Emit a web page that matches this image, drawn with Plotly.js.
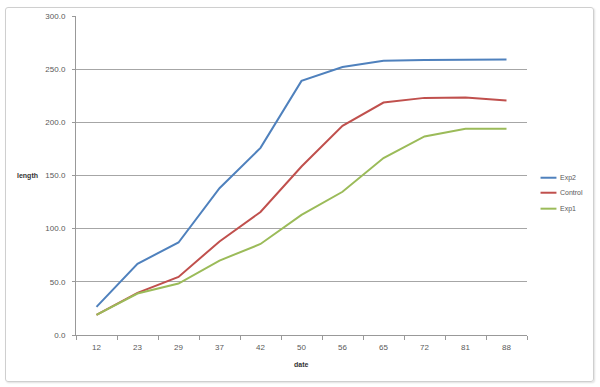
<!DOCTYPE html>
<html><head><meta charset="utf-8">
<script src="https://cdn.plot.ly/plotly-3.0.1.min.js"></script>
<style>
body{margin:0;background:#fff;}
#frame{position:absolute;left:5px;top:7px;width:587px;height:373px;border:1px solid #cfcfcf;border-radius:3px;box-shadow:1px 1px 2px #e0e0e0;pointer-events:none;}
#chart{position:absolute;left:0;top:0;width:600px;height:387px;}
</style></head>
<body>
<div id="chart"></div><div id="frame"></div>
<script>
const dates = ["12","23","29","37","42","50","56","65","72","81","88"];
const exp2 = [26.5, 67, 87, 138, 176, 239, 252, 258, 258.7, 258.7, 259];
const control = [19, 39.6, 54.6, 88, 115.7, 158.5, 196.7, 218.6, 223, 223.3, 220.5];
const exp1 = [19, 39, 48.4, 70, 85.6, 113, 134.7, 166.4, 186.7, 194, 194];
const seriesNames = ["Exp2", "Control", "Exp1"];
const seriesColors = ["#4F81BD", "#C0504D", "#9BBB59"];
const seriesData = [exp2, control, exp1];

const font = "Liberation Sans, Arial, sans-serif";
const traces = seriesData.map((d, i) => ({
  x: dates, y: d, name: seriesNames[i], mode: "lines", line: {color: seriesColors[i], width: 2}
}));

// manual legend (reference legend sits close to the plot area)
const legY = [0.493, 0.446, 0.396];
const shapes = [], annotations = [];
seriesNames.forEach((n, i) => {
  shapes.push({type: "line", xref: "paper", yref: "paper", x0: 1.03, x1: 1.0653, y0: legY[i], y1: legY[i],
               line: {color: seriesColors[i], width: 2}});
  annotations.push({text: n, xref: "paper", yref: "paper", x: 1.068, y: legY[i], xanchor: "left", yanchor: "middle",
                    showarrow: false, font: {size: 7, color: "#595959"}});
});
annotations.push({text: "<b>length</b>", xref: "paper", yref: "paper", x: -0.08, y: 0.5, xanchor: "right", yanchor: "middle", showarrow: false, font: {size: 7, color: "#333"}});
annotations.push({text: "<b>date</b>", xref: "paper", yref: "paper", x: 0.5, y: -0.075, xanchor: "center", yanchor: "top", showarrow: false, font: {size: 7, color: "#333"}});

const layout = {
  width: 600, height: 387,
  margin: {l: 75.5, r: 72.5, t: 16, b: 51.5},
  paper_bgcolor: "rgba(0,0,0,0)", plot_bgcolor: "#fff",
  font: {family: font, size: 8, color: "#595959"},
  showlegend: false,
  xaxis: {type: "category", range: [-0.5, 10.5], showgrid: false, showline: true, linecolor: "#999", linewidth: 1,
          ticks: "outside", tickson: "boundaries", ticklen: 4, tickcolor: "#999", ticklabelstandoff: 4,
          tickfont: {size: 8, color: "#595959"}, fixedrange: true, automargin: false},
  yaxis: {range: [0, 300], dtick: 50, tickformat: ".1f", showgrid: true, gridcolor: "#a6a6a6", gridwidth: 1, zeroline: false,
          showline: true, linecolor: "#999", ticks: "outside", ticklen: 3, tickcolor: "#999", ticklabelstandoff: 5,
          tickfont: {size: 8, color: "#595959"}, fixedrange: true, automargin: false},
  shapes: shapes,
  annotations: annotations
};
Plotly.newPlot("chart", traces, layout, {displayModeBar: false, staticPlot: true});
</script>
</body></html>
